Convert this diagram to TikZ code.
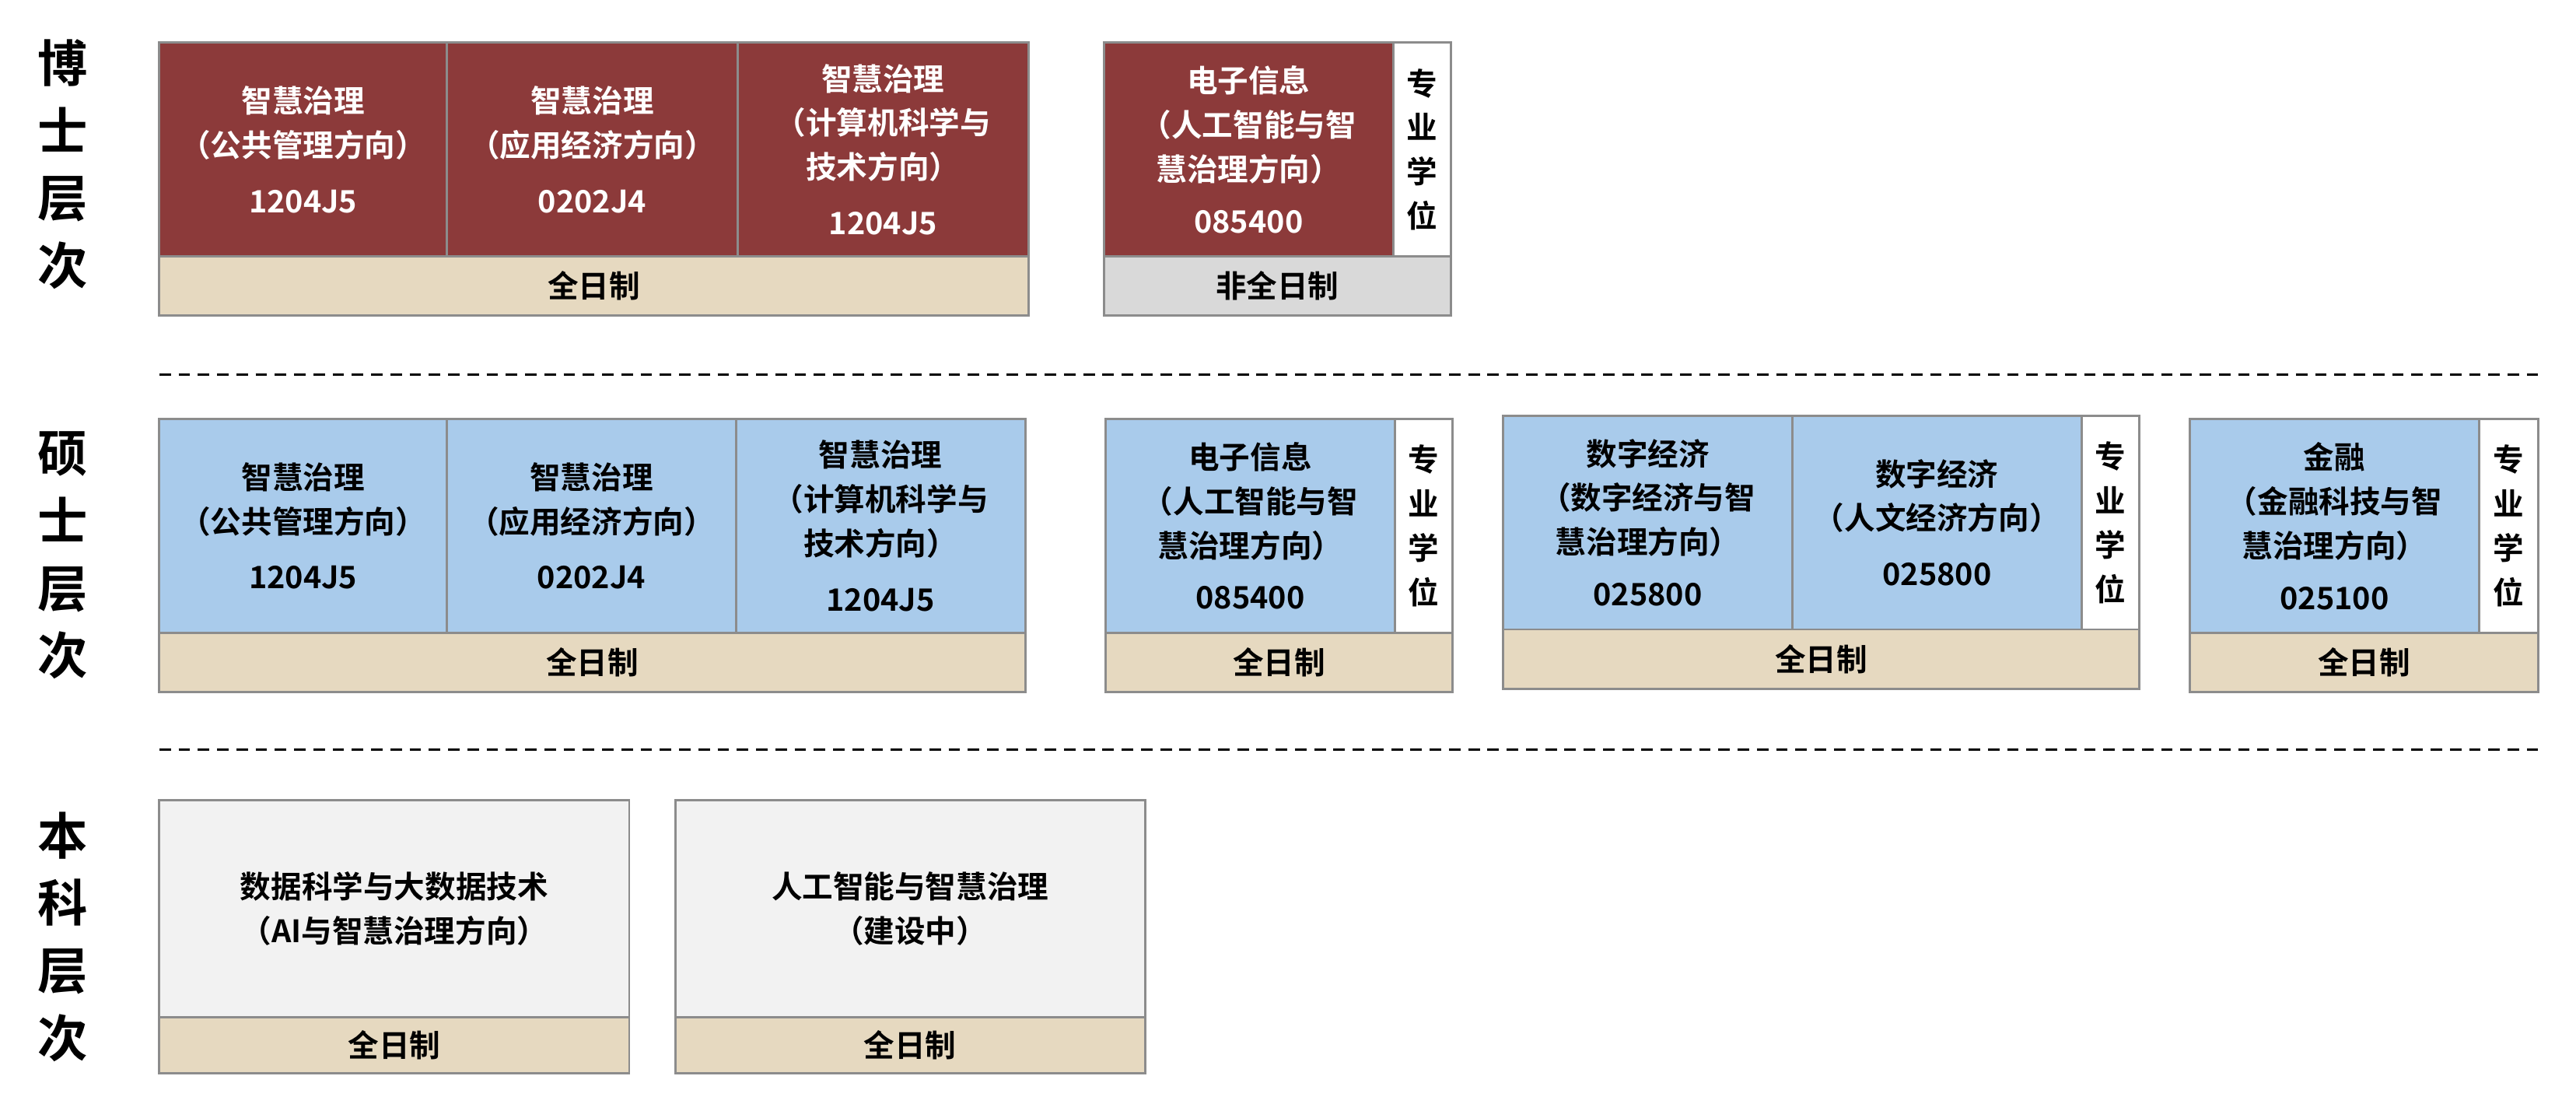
\documentclass[tikz,border=0pt]{standalone}
\usepackage{fontspec}
\setmainfont{Noto Sans CJK SC}[BoldFont={Noto Sans CJK SC Bold}]
\usetikzlibrary{fit}
\definecolor{maroon}{HTML}{8C3A3A}
\definecolor{skyblue}{HTML}{A9CBEB}
\definecolor{beige}{HTML}{E6D9C0}
\definecolor{midgray}{HTML}{D9D9D9}
\definecolor{palegray}{HTML}{F2F2F2}
\definecolor{edgegray}{HTML}{8C8C8C}
\tikzset{
  cell/.style={draw=edgegray, line width=1.2pt, inner sep=0pt},
  celltext/.style={align=center, inner sep=0pt, font=\bfseries\fontsize{16}{23}\selectfont},
  phd/.style={cell, fill=maroon},
  msc/.style={cell, fill=skyblue},
  bsc/.style={cell, fill=palegray},
  prof/.style={cell, fill=white},
  full/.style={cell, fill=beige},
  part/.style={cell, fill=midgray},
  level/.style={align=center, font=\bfseries\fontsize{26}{35}\selectfont},
  divider/.style={dashed, line width=1.2pt, dash pattern=on 6pt off 4pt}
}
% box with centred text: style, name, corners, text colour, text
\newcommand{\cellbox}[5]{%
  \node[#1, fit={#3}] (#2) {};
  \node[celltext, text=#4] (#2-t) at (#2.center) {#5};}
\begin{document}
\begin{tikzpicture}[x=0.03cm, y=-0.03cm]
\useasboundingbox[fill=white] (0,0) rectangle (1568,676);

% 博士层次
\node[level] (lphd) at (38,100) {博\\士\\层\\次};
\cellbox{phd}{p1}{(97,26) (272,156)}{white}{智慧治理\\（公共管理方向）\\[6pt]1204J5}
\cellbox{phd}{p2}{(272,26) (449,156)}{white}{智慧治理\\（应用经济方向）\\[6pt]0202J4}
\cellbox{phd}{p3}{(449,26) (626,156)}{white}{智慧治理\\（计算机科学与\\技术方向）\\[6pt]1204J5}
\cellbox{full}{pf}{(97,156) (626,192)}{black}{全日制}
\cellbox{phd}{p4}{(672,26) (848,156)}{white}{电子信息\\（人工智能与智\\慧治理方向）\\[4pt]085400}
\cellbox{prof}{p4z}{(848,26) (883,156)}{black}{专\\业\\学\\位}
\cellbox{part}{pp}{(672,156) (883,192)}{black}{非全日制}

\draw[divider] (97,228) -- (1545,228);

% 硕士层次
\node[level] (lmsc) at (38,338) {硕\\士\\层\\次};
\cellbox{msc}{m1}{(97,255) (272,385)}{black}{智慧治理\\（公共管理方向）\\[6pt]1204J5}
\cellbox{msc}{m2}{(272,255) (448,385)}{black}{智慧治理\\（应用经济方向）\\[6pt]0202J4}
\cellbox{msc}{m3}{(448,255) (624,385)}{black}{智慧治理\\（计算机科学与\\技术方向）\\[6pt]1204J5}
\cellbox{full}{mf1}{(97,385) (624,421)}{black}{全日制}
\cellbox{msc}{m4}{(673,255) (849,385)}{black}{电子信息\\（人工智能与智\\慧治理方向）\\[4pt]085400}
\cellbox{prof}{m4z}{(849,255) (884,385)}{black}{专\\业\\学\\位}
\cellbox{full}{mf2}{(673,385) (884,421)}{black}{全日制}
\cellbox{msc}{m5}{(915,253) (1091,383)}{black}{数字经济\\（数字经济与智\\慧治理方向）\\[4pt]025800}
\cellbox{msc}{m6}{(1091,253) (1267,383)}{black}{数字经济\\（人文经济方向）\\[6pt]025800}
\cellbox{prof}{m6z}{(1267,253) (1302,383)}{black}{专\\业\\学\\位}
\cellbox{full}{mf3}{(915,383) (1302,419)}{black}{全日制}
\cellbox{msc}{m7}{(1333,255) (1509,385)}{black}{金融\\（金融科技与智\\慧治理方向）\\[4pt]025100}
\cellbox{prof}{m7z}{(1509,255) (1545,385)}{black}{专\\业\\学\\位}
\cellbox{full}{mf4}{(1333,385) (1545,421)}{black}{全日制}

\draw[divider] (97,456) -- (1545,456);

% 本科层次
\node[level] (lbsc) at (38,570) {本\\科\\层\\次};
\cellbox{bsc}{b1}{(97,487) (383,619)}{black}{数据科学与大数据技术\\（AI与智慧治理方向）}
\cellbox{full}{bf1}{(97,619) (383,653)}{black}{全日制}
\cellbox{bsc}{b2}{(411,487) (697,619)}{black}{人工智能与智慧治理\\（建设中）}
\cellbox{full}{bf2}{(411,619) (697,653)}{black}{全日制}
\end{tikzpicture}
\end{document}
